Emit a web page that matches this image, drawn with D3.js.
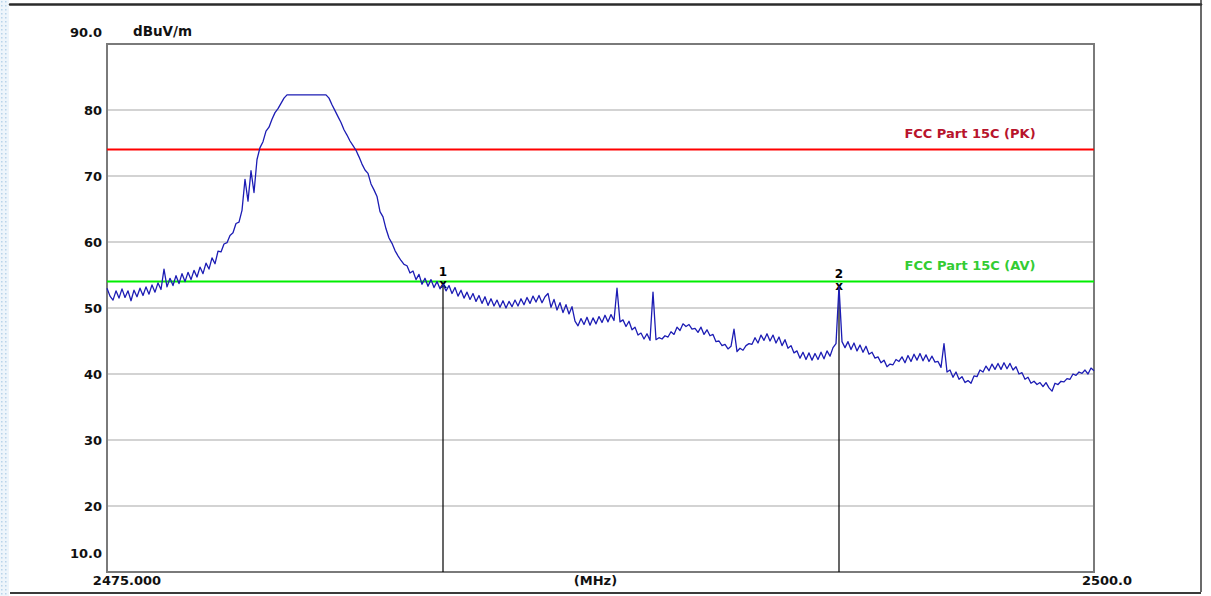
<!DOCTYPE html>
<html>
<head>
<meta charset="utf-8">
<script src="https://cdn.jsdelivr.net/npm/d3@7/dist/d3.min.js"></script>
<style>
  html, body { margin: 0; padding: 0; background: #ffffff; }
  svg { display: block; }
  text { font-family: "DejaVu Sans", Verdana, sans-serif; }
</style>
</head>
<body>
<svg id="chart" width="1211" height="596"></svg>
<script>
// Sweep settings (MHz)
const sweepStart = 2475.0;
const sweepStop = 2500.0;

// Measured trace, dBuV/m, one value per sweep point
const traceLevels = [
  53.0, 51.8, 51.2, 52.6, 51.5, 52.9, 51.6, 52.6, 51.1, 52.7,
  51.7, 53.0, 51.9, 53.2, 52.1, 53.5, 52.4, 53.8, 52.8, 55.9,
  53.2, 54.5, 53.4, 54.9, 53.7, 55.2, 54.0, 55.4, 54.3, 55.7,
  54.7, 56.2, 55.2, 56.8, 55.9, 57.6, 56.7, 58.6, 58.5, 59.7,
  59.9, 61.0, 61.4, 62.8, 63.0, 64.8, 69.5, 66.2, 70.8, 67.5,
  72.5, 74.3, 75.2, 76.8, 77.4, 78.6, 79.6, 80.2, 81.0, 81.8,
  82.3, 82.3, 82.3, 82.3, 82.3, 82.3, 82.3, 82.3, 82.3, 82.3,
  82.3, 82.3, 82.3, 82.3, 81.8, 80.8, 79.9, 79.0, 78.1, 77.0,
  76.2, 75.3, 74.6, 73.9, 72.9, 71.8, 70.9, 70.4, 68.8, 67.9,
  66.9, 64.6, 63.8, 62.0, 60.6, 59.8, 58.7, 57.9, 57.2, 56.6,
  56.4, 55.3, 55.6, 54.3, 55.1, 53.6, 54.5, 53.3, 54.3, 53.1,
  54.0, 52.9, 53.6, 52.6, 53.4, 52.2, 53.1, 51.8, 52.7, 51.5,
  52.4, 51.3, 52.2, 51.0, 51.9, 50.7, 51.7, 50.4, 51.4, 50.3,
  51.2, 50.1, 51.1, 50.0, 51.0, 50.2, 51.2, 50.3, 51.4, 50.5,
  51.6, 50.7, 51.8, 50.9, 51.9, 50.8, 51.7, 52.2, 50.1, 51.3,
  49.7, 50.8, 49.3, 50.5, 49.1, 50.2, 48.0, 47.3, 48.4, 47.5,
  48.6, 47.4, 48.5, 47.6, 48.7, 47.8, 48.9, 47.9, 49.0, 48.1,
  53.0, 47.9, 48.2, 47.2, 48.0, 46.7, 47.1, 45.9, 46.2, 45.3,
  46.1, 45.1, 52.4, 45.2, 45.5, 45.3, 45.8, 45.6, 46.4, 46.0,
  47.1, 46.6, 47.6, 47.2, 47.5, 46.8, 46.9, 46.3, 47.1, 46.0,
  46.7, 45.8, 46.0, 44.9, 45.0, 44.3, 44.5, 43.8, 44.2, 46.8,
  43.4, 43.9, 43.6, 44.3, 44.6, 44.5, 45.5, 44.7, 45.9, 45.1,
  46.1, 45.0, 45.9, 44.7, 45.6, 44.3, 45.2, 43.9, 44.3, 43.2,
  43.5, 42.4, 43.3, 42.2, 43.2, 42.1, 43.1, 42.2, 43.3, 42.3,
  43.5, 42.7, 44.0, 44.6, 53.3, 44.9, 44.0, 44.9, 43.7, 44.7,
  43.5, 44.4, 43.3, 44.2, 43.0, 43.3, 42.4, 42.6, 41.7, 42.1,
  41.1, 41.5, 41.4, 42.2, 41.9, 42.6, 41.7, 42.8, 41.9, 43.0,
  42.1, 43.1, 42.0, 42.9, 41.9, 42.7, 41.8, 41.9, 41.0, 44.6,
  40.3, 40.6, 39.5, 40.3, 39.2, 39.6, 38.7, 39.0, 38.6, 39.7,
  39.6, 40.6, 40.3, 41.2, 40.5, 41.5, 40.7, 41.6, 40.7, 41.7,
  40.8, 41.6, 40.6, 41.1, 40.0, 40.2, 39.2, 39.5, 38.6, 38.9,
  38.4, 38.7, 38.1, 38.7, 37.9, 37.4, 38.6, 38.4, 38.9, 38.8,
  39.3, 39.2, 40.0, 39.8, 40.3, 40.1, 40.6, 40.0, 40.9, 40.5
];

// Limit lines
const limitNames = ["FCC Part 15C (PK)", "FCC Part 15C (AV)"];
const limitLevels = [74, 54];
const limitColors = ["#ff0000", "#00ee00"];
const limitTextColors = ["#b8142c", "#33cc33"];

// Markers (sweep point index)
const markerIds = ["1", "2"];
const markerPoints = [112, 244];

// Axis labels
const yTickValues = [90, 80, 70, 60, 50, 40, 30, 20, 10];
const yTickLabels = ["90.0", "80", "70", "60", "50", "40", "30", "20", "10.0"];
const gridValues = [80, 70, 60, 50, 40, 30, 20];
const yUnit = "dBuV/m";
const xLabels = ["2475.000", "(MHz)", "2500.0"];

const svg = d3.select("#chart");
const W = 1211, H = 596;
const plot = { left: 107, right: 1094, top: 44, bottom: 572 };

const step = (sweepStop - sweepStart) / (traceLevels.length - 1);
const trace = traceLevels.map((v, i) => ({ f: sweepStart + i * step, v }));

const x = d3.scaleLinear().domain([sweepStart, sweepStop]).range([plot.left, plot.right]);
const y = d3.scaleLinear().domain([10, 90]).range([plot.bottom, plot.top]);

// Page margin strip on the left
const defs = svg.append("defs");
const pat = defs.append("pattern").attr("id", "dots")
  .attr("width", 4).attr("height", 4).attr("patternUnits", "userSpaceOnUse");
pat.append("rect").attr("width", 4).attr("height", 4).attr("fill", "#eef5fb");
pat.append("rect").attr("x", 1).attr("y", 1).attr("width", 1.5).attr("height", 1.5).attr("fill", "#b9d4ea");
svg.append("rect").attr("x", 0).attr("y", 0).attr("width", 9).attr("height", H).attr("fill", "url(#dots)");

// Outer frame lines
svg.append("line").attr("x1", 10).attr("x2", 1201).attr("y1", 4.5).attr("y2", 4.5)
  .attr("stroke", "#2b2b2b").attr("stroke-width", 2.5).attr("stroke-linecap", "round");
svg.append("line").attr("x1", 1201).attr("x2", 1201).attr("y1", 0).attr("y2", 592)
  .attr("stroke", "#3a3a3a").attr("stroke-width", 1.5);
svg.append("line").attr("x1", 10).attr("x2", 1201).attr("y1", 593).attr("y2", 593)
  .attr("stroke", "#3a3a3a").attr("stroke-width", 2);

// Horizontal grid
svg.append("g").selectAll("line").data(gridValues).join("line")
  .attr("x1", plot.left).attr("x2", plot.right)
  .attr("y1", d => y(d)).attr("y2", d => y(d))
  .attr("stroke", "#c4c4c4").attr("stroke-width", 1.5);

// Plot frame
svg.append("rect")
  .attr("x", plot.left).attr("y", plot.top)
  .attr("width", plot.right - plot.left).attr("height", plot.bottom - plot.top)
  .attr("fill", "none").attr("stroke", "#7a7a7a").attr("stroke-width", 2);

// Y tick labels (end labels sit inside the range)
svg.append("g").selectAll("text").data(yTickValues).join("text")
  .attr("x", 102)
  .attr("y", d => {
    if (d === 90) return y(d) - 12;
    if (d === 10) return y(d) - 19;
    return y(d);
  })
  .attr("dy", "0.36em")
  .attr("text-anchor", "end")
  .attr("font-size", 13).attr("font-weight", "bold").attr("fill", "#111")
  .text((d, i) => yTickLabels[i]);

svg.append("text").attr("x", 133).attr("y", y(90) - 13).attr("dy", "0.36em")
  .attr("font-size", 13.5).attr("font-weight", "bold").attr("fill", "#111")
  .text(yUnit);

// X labels
const xLabelPos = [x(sweepStart) + 20, x((sweepStart + sweepStop) / 2) - 5, x(sweepStop) + 13];
svg.append("g").selectAll("text").data(xLabels).join("text")
  .attr("x", (d, i) => xLabelPos[i])
  .attr("y", plot.bottom + 8).attr("dy", "0.36em")
  .attr("text-anchor", "middle")
  .attr("font-size", 13).attr("font-weight", "bold").attr("fill", "#111")
  .text(d => d);

// Limit lines and their names
const lim = svg.append("g");
lim.selectAll("line").data(limitLevels).join("line")
  .attr("x1", plot.left).attr("x2", plot.right)
  .attr("y1", d => y(d)).attr("y2", d => y(d))
  .attr("stroke", (d, i) => limitColors[i]).attr("stroke-width", 2);
lim.selectAll("text").data(limitLevels).join("text")
  .attr("x", 970).attr("y", d => y(d) - 16).attr("dy", "0.36em")
  .attr("text-anchor", "middle")
  .attr("font-size", 13).attr("font-weight", "bold")
  .attr("fill", (d, i) => limitTextColors[i])
  .text((d, i) => limitNames[i]);

// Marker drop lines (drawn under the trace)
const mk = svg.append("g");
mk.selectAll("line").data(markerPoints).join("line")
  .attr("x1", d => x(trace[d].f)).attr("x2", d => x(trace[d].f))
  .attr("y1", d => y(trace[d].v)).attr("y2", plot.bottom)
  .attr("stroke", "#000").attr("stroke-width", 1.2);

// Trace
const line = d3.line().x(d => x(d.f)).y(d => y(d.v));
svg.append("path").datum(trace)
  .attr("d", line)
  .attr("fill", "none").attr("stroke", "#1c1cb4").attr("stroke-width", 1.3)
  .attr("stroke-linejoin", "round");

// Marker symbols and ids
mk.selectAll("text.x").data(markerPoints).join("text").attr("class", "x")
  .attr("x", d => x(trace[d].f)).attr("y", d => y(trace[d].v)).attr("dy", "0.3em")
  .attr("text-anchor", "middle").attr("font-size", 12).attr("font-weight", "bold").attr("fill", "#000")
  .text("x");
mk.selectAll("text.id").data(markerPoints).join("text").attr("class", "id")
  .attr("x", d => x(trace[d].f)).attr("y", d => y(trace[d].v) - 13).attr("dy", "0.36em")
  .attr("text-anchor", "middle").attr("font-size", 12).attr("font-weight", "bold").attr("fill", "#000")
  .text((d, i) => markerIds[i]);
</script>
</body>
</html>
